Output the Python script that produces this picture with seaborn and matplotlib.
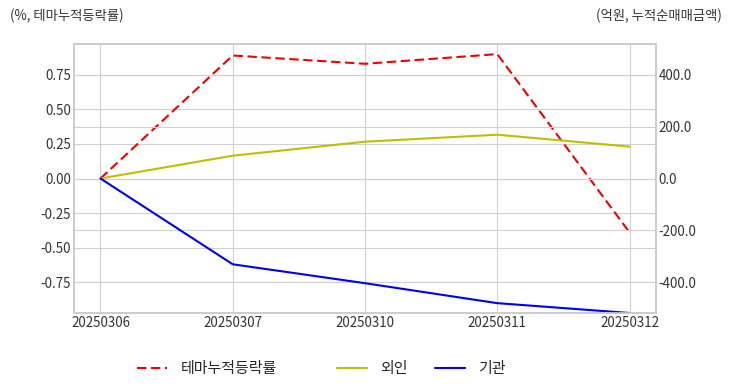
import matplotlib
matplotlib.use("Agg")
import matplotlib.pyplot as plt
import matplotlib.ticker as mticker
from matplotlib.lines import Line2D
import seaborn as sns
import pandas as pd

dates = ["20250306", "20250307", "20250310", "20250311", "20250312"]
theme_pct = [0.0, 0.89, 0.83, 0.90, -0.39]
foreign = [0.0, 88.0, 142.0, 169.0, 123.0]
institution = [0.0, -331.0, -404.0, -481.0, -519.0]

sns.set_theme(style="whitegrid")
plt.rcParams['font.family'] = ['Noto Sans CJK KR', 'DejaVu Sans']
plt.rcParams['axes.unicode_minus'] = False

fig = plt.figure(figsize=(7.32, 3.92), dpi=100)
ax = fig.add_axes([74/732, 1-313/392, (656-74)/732, (313-44)/392])
ax2 = ax.twinx()

df = pd.DataFrame({"date": dates, "theme": theme_pct, "foreign": foreign, "inst": institution})
df["x"] = range(len(dates))

dash = (0, (4.5, 2.2))
sns.lineplot(data=df, x="x", y="theme", ax=ax, color="#ee0000", linestyle=dash, linewidth=1.5)
sns.lineplot(data=df, x="x", y="foreign", ax=ax2, color="#bfbf00", linewidth=1.5)
sns.lineplot(data=df, x="x", y="inst", ax=ax2, color="#0000ee", linewidth=1.5)

lim_r = 519
lim_l = 0.75 / 400 * lim_r
ax.set_ylim(-lim_l, lim_l)
ax2.set_ylim(-lim_r, lim_r)
ax.set_xlim(-0.2, 4.2)
ax.set_xticks(range(len(dates)))
ax.set_xticklabels(dates)
ax.yaxis.set_major_locator(mticker.MultipleLocator(0.25))
ax.yaxis.set_major_formatter(mticker.FormatStrFormatter('%.2f'))
ax2.yaxis.set_major_locator(mticker.MultipleLocator(200))
ax2.yaxis.set_major_formatter(mticker.FormatStrFormatter('%.1f'))

for a in (ax, ax2):
    a.set_xlabel("")
    a.set_ylabel("")
    a.tick_params(labelsize=9.6, colors="#333333", pad=2, length=0)
    a.grid(True, color="#d0d0d0", linewidth=0.8)
    for s in a.spines.values():
        s.set_color("#cccccc")
        s.set_linewidth(1.2)
ax2.grid(True, axis="y", color="#d0d0d0", linewidth=0.8)
ax2.grid(False, axis="x")
ax.set_facecolor("white")

fig.text(10/732, 1-16/392, "(%, 테마누적등락률)", fontsize=9.6, color="#333333", va="center", ha="left")
fig.text(722/732, 1-16/392, "(억원, 누적순매매금액)", fontsize=9.6, color="#333333", va="center", ha="right")

h1 = [Line2D([], [], color="#ee0000", linestyle=dash, linewidth=1.5)]
fig.legend(h1, ["테마누적등락률"], loc="center", bbox_to_anchor=(207/732, 1-369/392),
           frameon=False, fontsize=10.8, handlelength=2.0, handletextpad=0.9)
h2 = [Line2D([], [], color="#bfbf00", linewidth=1.5), Line2D([], [], color="#0000ee", linewidth=1.5)]
fig.legend(h2, ["외인", "기관"], loc="center", bbox_to_anchor=(421/732, 1-369/392), ncol=2,
           frameon=False, fontsize=10.8, handlelength=2.0, handletextpad=0.9, columnspacing=1.8)

fig.savefig("out.png", dpi=100)
